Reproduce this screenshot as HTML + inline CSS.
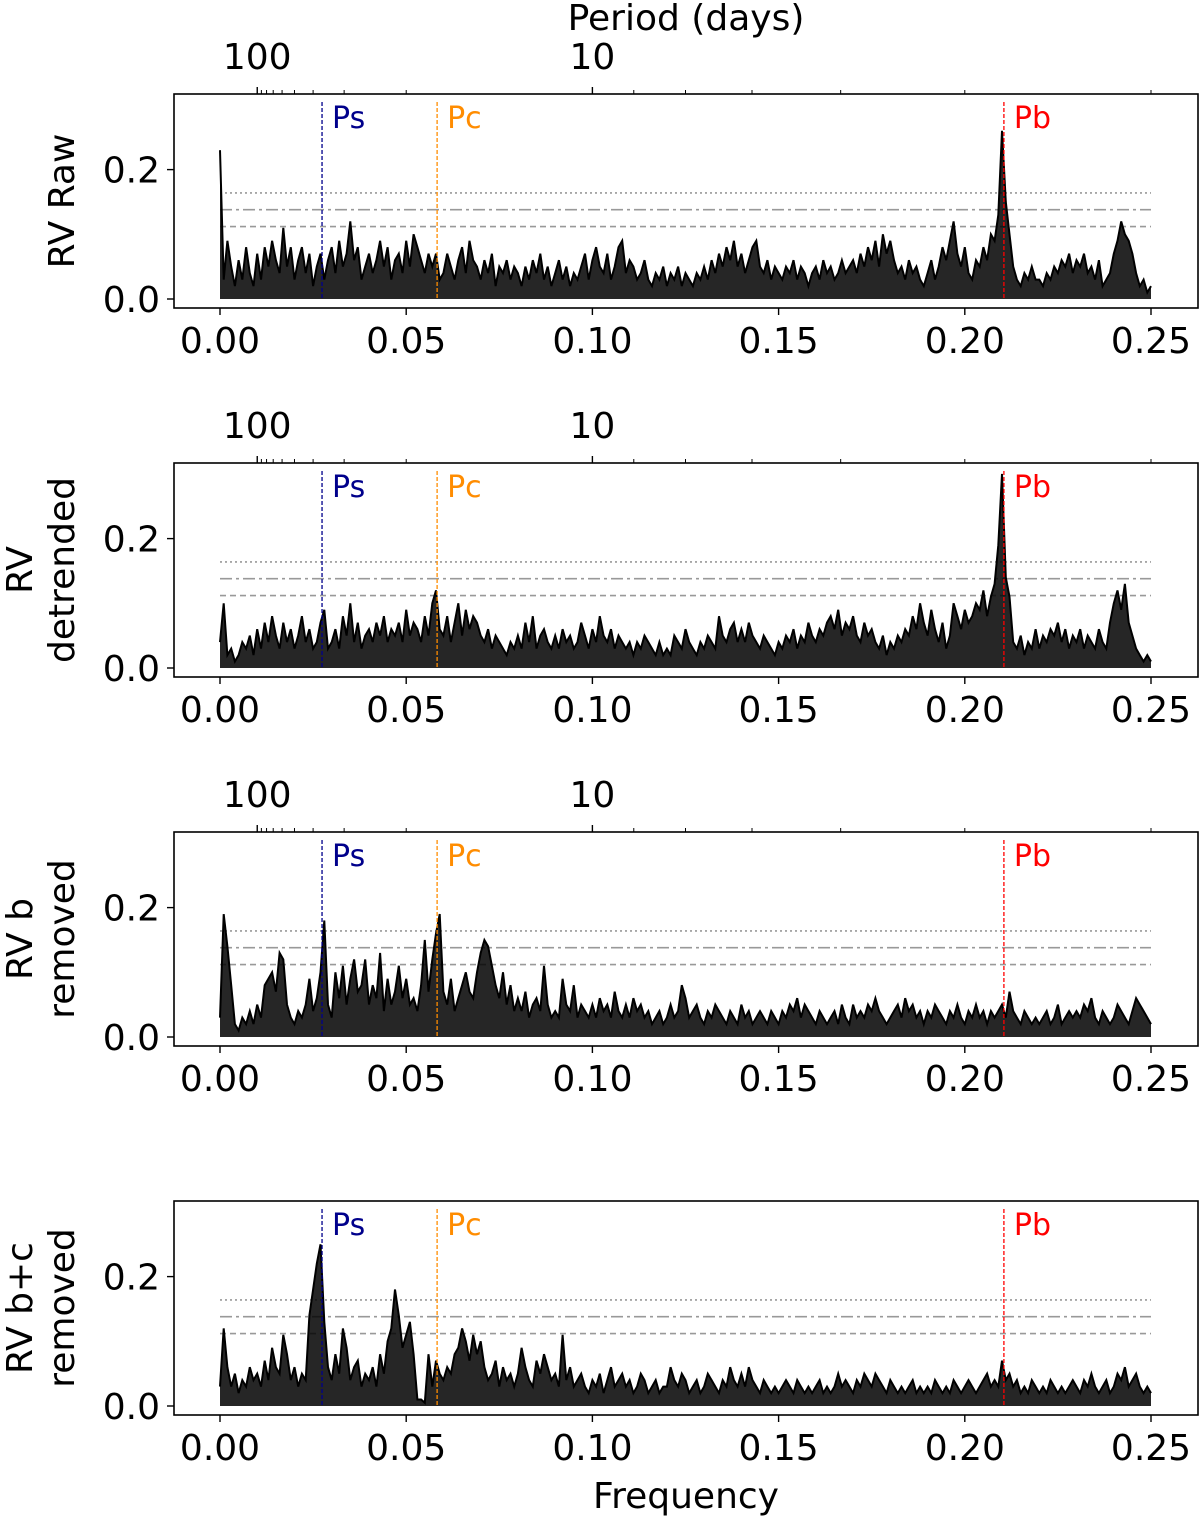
<!DOCTYPE html>
<html><head><meta charset="utf-8"><style>
body{margin:0;background:#fff}
svg text{font-family:"DejaVu Sans","Liberation Sans",sans-serif}
</style></head><body>
<svg id="c" width="1200" height="1518" xmlns="http://www.w3.org/2000/svg"></svg>
<script>
const rawPower=[23,3,9,5,2,6,3,8,4,2,7,3,8,5,9,6,4,11,5,8,3,6,8,4,7,2,5,7,3,6,8,4,9,5,7,12,6,8,3,5,7,4,6,9,5,8,3,6,7,4,9,5,10,8,6,4,7,5,7,3,4,7,5,3,6,8,4,9,6,5,3,6,4,7,2,5,4,6,3,5,4,2,5,3,6,4,7,3,5,2,4,6,3,5,2,4,3,5,7,3,6,8,5,4,7,3,5,8,9,4,6,5,3,4,6,3,2,4,3,5,2,4,3,5,2,4,3,2,4,3,5,3,6,4,7,5,8,6,9,5,7,4,6,8,9,5,4,6,3,5,4,3,5,4,6,3,5,4,2,4,5,3,6,4,5,3,4,6,4,5,6,4,7,5,8,6,9,5,10,7,9,6,4,5,3,6,4,5,3,2,4,6,3,5,8,6,9,12,7,5,8,4,3,6,5,8,6,10,9,13,26,15,10,5,3,2,4,3,5,3,3,2,4,3,5,4,6,5,7,4,6,5,7,4,5,3,6,2,3,4,7,9,12,10,9,7,4,2,3,1,2];
const detrendedPower=[4,10,2,3,1,2,4,3,5,2,6,3,7,4,8,5,3,7,4,6,3,5,8,4,6,3,4,7,9,3,4,6,3,8,5,10,4,7,3,5,6,4,7,5,8,4,6,5,7,4,9,5,7,6,4,8,5,10,12,6,5,8,4,7,10,5,9,6,8,7,5,4,6,3,5,4,3,2,4,3,5,3,7,4,8,3,5,6,4,3,5,3,6,4,5,3,4,7,5,3,6,4,8,5,4,6,3,5,4,3,4,2,4,3,5,4,3,2,4,2,3,2,5,4,3,6,4,3,2,4,3,5,4,3,8,5,4,6,7,4,6,4,7,5,4,3,5,4,3,2,4,3,5,4,6,3,5,4,7,5,4,6,5,7,8,6,9,5,7,6,8,5,4,7,5,6,4,3,5,2,4,3,5,4,6,5,8,6,10,7,5,9,6,4,7,3,5,10,8,6,9,7,8,10,9,12,8,11,13,19,30,14,11,4,3,5,2,4,3,6,3,5,4,6,5,7,4,6,3,5,4,6,3,5,4,3,6,4,3,7,10,12,9,13,7,5,3,2,1,2,1];
const bRemovedPower=[3,19,14,8,2,1,3,2,4,2,5,3,8,9,10,7,13,12,5,3,2,4,3,5,9,4,6,10,18,5,3,10,6,11,5,9,12,7,8,12,5,8,6,13,4,9,5,7,11,6,9,5,6,4,8,15,7,12,16,19,7,5,9,4,6,8,10,7,6,10,13,15,14,11,8,6,10,5,8,4,6,4,7,3,5,6,4,11,5,3,4,3,9,5,4,8,3,5,4,3,5,3,6,4,5,3,7,4,3,5,3,6,4,5,3,4,2,3,4,2,3,5,3,4,8,6,3,4,5,3,2,4,3,5,4,3,2,4,3,2,5,3,4,2,3,4,3,2,4,3,2,4,3,5,4,6,3,5,4,3,2,4,3,2,3,4,2,5,3,2,5,3,4,3,5,4,6,4,3,2,3,4,5,3,6,4,5,3,4,2,4,3,5,4,3,2,4,3,5,3,2,4,3,5,3,4,2,4,3,4,5,3,7,4,3,2,4,3,2,3,2,3,4,2,3,5,2,3,4,3,4,3,5,4,6,3,2,4,3,2,3,5,4,3,2,4,6,5,4,3,2];
const bcRemovedPower=[3,12,6,3,5,2,4,3,6,4,5,3,7,4,9,6,5,11,8,4,6,3,5,4,14,18,22,25,13,6,4,8,5,12,9,4,6,7,3,5,4,6,3,8,5,10,12,18,14,9,11,13,8,1,1,0.5,8,3,7,5,4,6,5,8,9,12,10,7,11,8,10,6,4,5,7,3,6,4,5,3,5,9,6,4,3,7,5,8,6,4,5,3,11,4,6,3,4,5,3,2,4,3,5,2,4,6,3,4,5,3,4,2,3,5,4,2,3,4,2,3,3,6,4,3,5,4,2,3,4,2,3,5,4,3,2,4,3,6,4,3,5,3,6,4,3,2,4,3,2,3,2,3,4,3,2,4,3,2,3,2,3,4,2,3,2,3,5,3,4,3,2,4,3,5,4,3,5,4,3,2,4,3,2,3,2,3,4,2,3,2,3,2,4,3,2,3,2,4,3,2,3,4,3,2,3,4,5,3,4,3,7,4,5,3,4,2,3,2,4,3,2,3,2,4,3,2,3,2,3,4,3,2,4,3,5,3,2,3,4,2,3,5,4,6,3,4,5,3,2,3,2];
const freqStep=0.001;
const yTicks=[0.0,0.2];
const yTickLabels=["0.0","0.2"];
const xTicks=[0,0.05,0.10,0.15,0.20,0.25];
const xTickLabels=["0.00","0.05","0.10","0.15","0.20","0.25"];
const periodMajor=[100,10];
const periodMinor=[20,30,40,50,60,70,80,90,2,3,4,5,6,7,8,9];
const thresholds=[0.164,0.138,0.112];
const markerNames=["Ps","Pc","Pb"];
const markerFreqs=[0.0274,0.0583,0.2105];
const markerColors=["#00008b","#ff8c00","#ff0000"];

const svg=document.getElementById('c');
const NS='http://www.w3.org/2000/svg';
function mk(t,a,p){const e=document.createElementNS(NS,t);for(const k in a)e.setAttribute(k,a[k]);(p||svg).appendChild(e);return e;}
const L=174,R=1198,H=214;
function xs(f){return 220+f*3724;}
const panels=[
 {top:94,data:rawPower,lab:["RV Raw"],name:"rv-raw",topAxis:true},
 {top:463,data:detrendedPower,lab:["RV","detrended"],name:"rv-detrended",topAxis:true},
 {top:832,data:bRemovedPower,lab:["RV b","removed"],name:"rv-b-removed",topAxis:true},
 {top:1201,data:bcRemovedPower,lab:["RV b+c","removed"],name:"rv-bc-removed",topAxis:false}
];
panels.forEach((p,pi)=>{
 const g=mk('g',{});
 
 
 const y0=p.top+205;
 const ys=v=>y0-v*647;
 const dash=["2,3","12,4,3,4","6,4"];
 thresholds.forEach((t,i)=>{
  const l=mk('line',{x1:xs(0),x2:xs(0.25),y1:ys(t),y2:ys(t),stroke:'#999','stroke-width':1.6,'stroke-dasharray':dash[i]},g);
  
  
 });
 let pts=p.data.map((v,i)=>xs(i*freqStep).toFixed(1)+','+ys(v/100).toFixed(1));
 const area=mk('polygon',{points:xs(0)+','+y0+' '+pts.join(' ')+' '+xs((p.data.length-1)*freqStep)+','+y0,fill:'#000','fill-opacity':0.85},g);
 
 
 const pl=mk('polyline',{points:pts.join(' '),fill:'none',stroke:'#000','stroke-width':2},g);
 
 
 markerFreqs.forEach((f,i)=>{
  const l=mk('line',{x1:xs(f),x2:xs(f),y1:p.top+8,y2:y0,stroke:markerColors[i],'stroke-width':1.3,'stroke-dasharray':'4,2'},g);
  
  
  const t=mk('text',{x:xs(f)+10,y:p.top+34,fill:markerColors[i],'font-size':30},g);
  t.textContent=markerNames[i];
  
  
 });
 const fr=mk('rect',{x:L,y:p.top,width:R-L,height:H,fill:'none',stroke:'#000','stroke-width':1.6},g);
 
 
 xTicks.forEach((f,i)=>{
  mk('line',{x1:xs(f),x2:xs(f),y1:p.top+H,y2:p.top+H+7,stroke:'#000','stroke-width':1.4},g);
  const t=mk('text',{x:xs(f),y:p.top+H+45,'font-size':36,'text-anchor':'middle'},g);
  t.textContent=xTickLabels[i];
  
  
 });
 yTicks.forEach((v,i)=>{
  mk('line',{x1:L-7,x2:L,y1:ys(v),y2:ys(v),stroke:'#000','stroke-width':1.4},g);
  const t=mk('text',{x:L-14,y:ys(v)+13,'font-size':36,'text-anchor':'end'},g);
  t.textContent=yTickLabels[i];
  
  
 });
 const cy=p.top+107;
 const lx=p.lab.length==1?[74]:[32,74];
 p.lab.forEach((s,i)=>{
  const t=mk('text',{x:lx[i],y:cy,'font-size':36,'text-anchor':'middle',transform:`rotate(-90 ${lx[i]} ${cy})`},g);
  t.textContent=s;
  
  
 });
 if(p.topAxis){
  periodMajor.forEach(P=>{
   mk('line',{x1:xs(1/P),x2:xs(1/P),y1:p.top,y2:p.top-7,stroke:'#000','stroke-width':1.4},g);
   const t=mk('text',{x:xs(1/P),y:p.top-25,'font-size':36,'text-anchor':'middle'},g);
   t.textContent=String(P);
   
   
  });
  periodMinor.forEach(P=>{
   mk('line',{x1:xs(1/P),x2:xs(1/P),y1:p.top,y2:p.top-4,stroke:'#000','stroke-width':1},g);
  });
 }
});
const t1=mk('text',{x:686,y:30,'font-size':36,'text-anchor':'middle'});
t1.textContent='Period (days)';


const t2=mk('text',{x:686,y:1508,'font-size':36,'text-anchor':'middle'});
t2.textContent='Frequency';


</script>
</body></html>
